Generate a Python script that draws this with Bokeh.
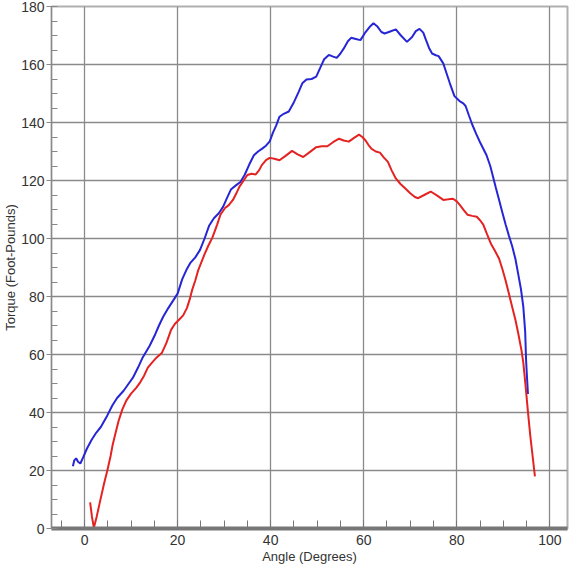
from bokeh.plotting import figure
from bokeh.models import Range1d, SingleIntervalTicker
from bokeh.embed import file_html
from bokeh.resources import INLINE

blue_angle = [-2.5, -2.2, -1.8, -1.4, -0.9, -0.3, 0.5, 1.5, 2.5, 3.5, 4.9, 6.0, 7.0, 8.4, 9.5, 10.4, 11.5,
              12.5, 14.0, 15.2, 16.0, 16.9, 18.0, 19.0, 20.0, 21.0, 22.0, 22.7, 23.8, 24.8, 25.8, 26.8,
              27.8, 28.9, 29.8, 30.6, 31.5, 32.6, 33.5, 34.4, 35.4, 36.4, 37.3, 38.1, 39.0, 39.8, 40.5,
              41.2, 41.9, 42.8, 43.9, 45.0, 46.0, 46.8, 47.7, 48.8, 49.8, 50.7, 51.5, 52.5, 53.3, 54.2,
              55.0, 55.9, 56.6, 57.3, 58.3, 59.3, 60.4, 61.3, 62.1, 63.0, 63.8, 64.5, 65.7, 66.9, 68.0,
              69.3, 70.4, 71.2, 72.0, 72.8, 73.4, 74.1, 74.7, 75.5, 76.1, 77.1, 77.8, 78.5, 79.5, 80.6,
              81.4, 81.9, 82.6, 83.3, 84.2, 85.0, 86.4, 87.2, 87.7, 88.4, 89.1, 89.8, 90.5, 91.2, 91.9,
              92.6, 93.2, 93.8, 94.3, 94.7, 94.9, 95.1, 95.3]
blue_torque = [21.5, 23.5, 24.2, 23.0, 22.4, 24.5, 27.5, 30.5, 33.0, 35.0, 39.0, 42.5, 45.0, 47.5, 50.0, 52.0, 55.5,
               59.0, 63.0, 67.0, 70.0, 73.0, 76.0, 78.5, 81.0, 86.0, 89.5, 91.5, 93.5, 96.0, 100.0, 104.5,
               107.0, 108.8, 111.0, 113.9, 117.0, 118.4, 119.5, 121.9, 125.5, 128.7, 130.0, 130.9, 132.0, 133.5, 136.5,
               139.0, 142.0, 143.0, 143.8, 147.0, 150.5, 153.5, 154.8, 155.0, 155.8, 159.0, 161.8, 163.3, 162.8, 162.3,
               163.8, 166.0, 168.0, 169.2, 168.8, 168.4, 171.2, 173.0, 174.2, 173.0, 171.2, 170.7, 171.4, 172.1, 170.0,
               167.8, 169.5, 171.5, 172.3, 171.0, 168.4, 165.5, 163.8, 163.2, 162.9, 160.4, 157.0, 153.6, 149.1, 147.4,
               146.6, 145.7, 142.5, 139.4, 136.0, 133.2, 128.7, 125.0, 121.9, 117.5, 113.3, 109.0, 104.8, 101.0, 97.4,
               93.0, 87.8, 82.5, 76.5, 68.0, 58.0, 52.0, 46.4]

red_angle = [1.2, 1.6, 2.0, 2.6, 3.2, 4.2, 4.9, 5.6, 6.0, 6.6, 7.3, 8.1, 9.0, 10.0, 11.1, 12.0, 12.8, 13.6,
             14.5, 15.5, 16.6, 17.6, 18.6, 19.4, 20.3, 21.2, 22.0, 22.6, 23.1, 23.8, 24.4, 25.1, 25.8, 26.6,
             27.5, 28.5, 29.2, 30.2, 31.0, 31.9, 32.6, 33.3, 34.2, 35.0, 35.9, 36.8, 37.5, 38.1, 39.0, 39.8,
             40.8, 41.9, 43.2, 44.6, 45.8, 47.0, 48.4, 49.8, 51.0, 52.2, 53.4, 54.7, 55.7, 56.8, 58.0, 59.0,
             59.7, 60.4, 61.0, 61.7, 62.6, 63.5, 64.3, 65.2, 66.0, 66.9, 67.9, 68.9, 70.0, 71.0, 71.7, 73.0,
             74.4, 75.8, 77.1, 78.2, 79.2, 80.0, 80.6, 81.5, 82.3, 83.3, 84.3, 85.0, 85.7, 86.5, 87.4, 88.2,
             89.1, 89.8, 90.5, 91.2, 91.9, 92.6, 93.2, 93.9, 94.3, 94.8, 95.3, 95.8, 96.3, 96.8]
red_torque = [9.0, 4.0, 0.3, 4.0, 8.4, 15.5, 20.0, 25.0, 28.5, 32.5, 37.0, 41.0, 44.2, 46.5, 48.5, 50.5, 52.7, 55.5,
              57.2, 59.0, 60.5, 64.0, 68.5, 70.5, 72.0, 73.5, 76.0, 79.0, 82.1, 85.5, 88.9, 91.8, 94.6, 97.5,
              100.4, 104.8, 108.2, 110.5, 111.5, 113.3, 115.5, 117.9, 120.0, 121.9, 122.3, 122.1, 123.5, 125.3, 127.0, 127.8,
              127.5, 127.0, 128.5, 130.2, 129.0, 128.1, 129.8, 131.5, 131.8, 131.8, 133.2, 134.4, 133.8, 133.4, 134.8, 135.8,
              135.0, 133.8, 132.3, 130.9, 130.0, 129.6, 128.0, 126.4, 123.5, 120.7, 118.8, 117.3, 115.6, 114.3, 113.9, 115.0,
              116.2, 114.8, 113.3, 113.5, 113.7, 112.8, 111.7, 109.8, 108.2, 107.8, 107.5, 106.3, 104.8, 101.5, 98.0, 95.8,
              93.0, 89.5, 85.5, 81.0, 76.5, 72.0, 67.4, 61.5, 57.2, 49.0, 40.2, 32.0, 25.0, 18.0]

x_label = "Angle (Degrees)"
y_label = "Torque (Foot-Pounds)"

FONT = "Liberation Sans"

p = figure(width=569, height=566, output_backend="svg", toolbar_location=None,
           x_range=Range1d(-7.1, 103.8), y_range=Range1d(0, 180),
           min_border_left=44, min_border_right=2, min_border_top=6, min_border_bottom=34)

p.line(blue_angle, blue_torque, line_color="#2626d6", line_width=2)
p.line(red_angle, red_torque, line_color="#e52222", line_width=2)

p.xaxis.ticker = SingleIntervalTicker(interval=20, num_minor_ticks=4)
p.yaxis.ticker = SingleIntervalTicker(interval=20, num_minor_ticks=4)

p.xaxis.axis_label = x_label
p.yaxis.axis_label = y_label
for ax in (p.xaxis, p.yaxis):
    ax.axis_label_text_font = FONT
    ax.axis_label_text_font_style = "normal"
    ax.axis_label_text_font_size = "13px"
    ax.axis_label_text_color = "#333333"
    ax.major_label_text_font = FONT
    ax.major_label_text_font_size = "14px"
    ax.major_label_text_color = "#333333"

p.xaxis.axis_line_width = 4
p.xaxis.axis_line_color = "#777777"
p.xaxis.major_tick_out = 0
p.xaxis.major_tick_in = 0
p.xaxis.minor_tick_in = 8
p.xaxis.minor_tick_out = 0
p.xaxis.minor_tick_line_color = "#777777"
p.xaxis.major_label_standoff = 6
p.xaxis.axis_label_standoff = 1

p.yaxis.axis_line_color = "#888888"
p.yaxis.axis_line_width = 1
p.yaxis.major_tick_out = 5
p.yaxis.major_tick_in = 0
p.yaxis.major_tick_line_color = "#888888"
p.yaxis.minor_tick_in = 6
p.yaxis.minor_tick_out = 0
p.yaxis.minor_tick_line_color = "#888888"
p.yaxis.major_label_standoff = 2
p.yaxis.axis_label_standoff = 0

p.grid.grid_line_color = "#8a8a8a"
p.grid.grid_line_width = 1.3
p.outline_line_color = "#b0b0b0"
p.outline_line_width = 2
p.background_fill_color = "white"

open("out.html", "w").write(file_html(p, INLINE))
